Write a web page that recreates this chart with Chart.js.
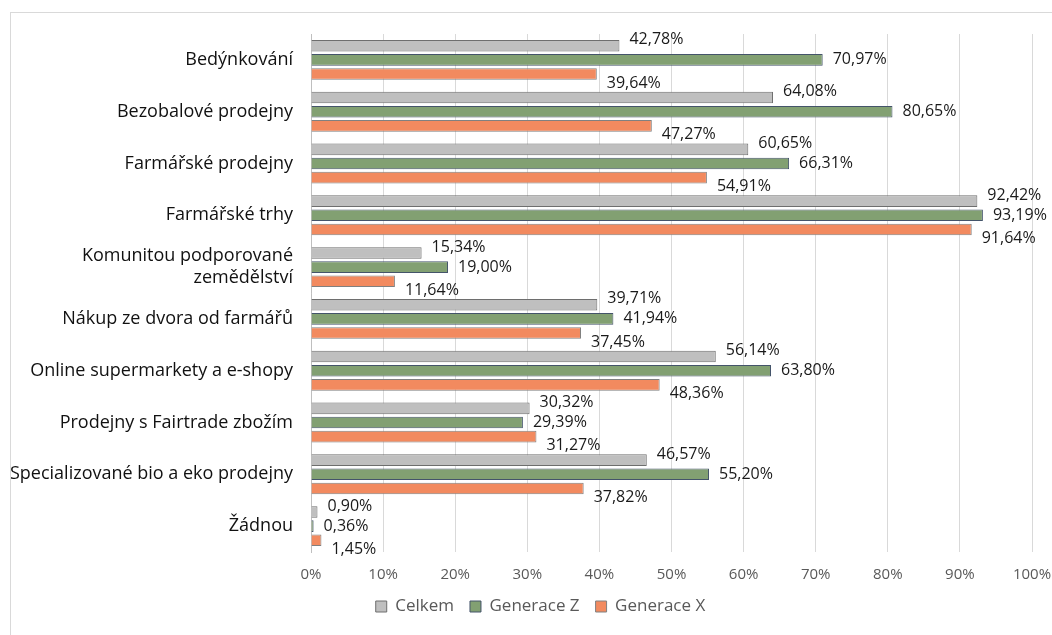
<!DOCTYPE html>
<html>
<head>
<meta charset="utf-8">
<script src="https://cdn.jsdelivr.net/npm/chart.js@4"></script>
<style>
  html, body { margin: 0; padding: 0; background: #fff; }
  #wrap { position: absolute; left: 10px; top: 12px; width: 1042px; height: 623px;
          border-left: 1px solid #d9d9d9; border-top: 1px solid #d9d9d9; box-sizing: border-box; }
  #chart { position: absolute; left: 0; top: 0; }
</style>
</head>
<body>
<div id="wrap"><canvas id="chart" width="1041" height="622"></canvas></div>
<script>
// Categories (y axis)
const categories = [
    'Bedýnkování',
    'Bezobalové prodejny',
    'Farmářské prodejny',
    'Farmářské trhy',
    ['Komunitou podporované', 'zemědělství'],
    'Nákup ze dvora od farmářů',
    'Online supermarkety a e-shopy',
    'Prodejny s Fairtrade zbožím',
    'Specializované bio a eko prodejny',
    'Žádnou'
];

// Series values (%)
const celkem     = [42.78, 64.08, 60.65, 92.42, 15.34, 39.71, 56.14, 30.32, 46.57, 0.90];
const generaceZ  = [70.97, 80.65, 66.31, 93.19, 19.00, 41.94, 63.80, 29.39, 55.20, 0.36];
const generaceX  = [39.64, 47.27, 54.91, 91.64, 11.64, 37.45, 48.36, 31.27, 37.82, 1.45];

const fontFamily = '"Open Sans", sans-serif';

// Value labels next to bar ends, staggered like the original
const valueLabels = {
    id: 'valueLabels',
    afterLayout(chart) {
        // legend in the original sits a bit right of the canvas centre
        chart.legend.left += 19;
        chart.legend.right += 19;
    },
    afterDatasetsDraw(chart) {
        const ctx = chart.ctx;
        const yShift = [-6, 0, 9];
        ctx.save();
        ctx.font = '16px ' + fontFamily;
        ctx.fillStyle = '#1a1a1a';
        ctx.textBaseline = 'middle';
        ctx.textAlign = 'left';
        chart.data.datasets.forEach((ds, di) => {
            const meta = chart.getDatasetMeta(di);
            meta.data.forEach((bar, i) => {
                const txt = ds.data[i].toFixed(2).replace('.', ',') + '%';
                ctx.fillText(txt, bar.x + 10, bar.y + yShift[di]);
            });
        });
        ctx.restore();
    }
};

new Chart(document.getElementById('chart'), {
    type: 'bar',
    data: {
        labels: categories,
        datasets: [
            { label: 'Celkem', data: celkem, backgroundColor: '#bfbfbf', borderColor: '#6e6e6e', borderWidth: 1 },
            { label: 'Generace Z', data: generaceZ, backgroundColor: '#82a072', borderColor: '#44546a', borderWidth: 1 },
            { label: 'Generace X', data: generaceX, backgroundColor: '#f28a5f', borderColor: '#808080', borderWidth: 1 }
        ]
    },
    options: {
        indexAxis: 'y',
        responsive: false,
        animation: false,
        categoryPercentage: 0.82,
        barPercentage: 0.82,
        layout: { padding: { left: 0, right: 20, top: 21, bottom: 10 } },
        plugins: {
            legend: {
                position: 'bottom',
                labels: {
                    boxWidth: 11, boxHeight: 11, padding: 16,
                    color: '#595959',
                    font: { family: fontFamily, size: 17 }
                }
            },
            tooltip: { enabled: false }
        },
        scales: {
            x: {
                min: 0, max: 100,
                ticks: {
                    stepSize: 10,
                    color: '#595959',
                    padding: 14,
                    font: { family: fontFamily, size: 15 },
                    callback: v => v + '%'
                },
                grid: { color: '#d9d9d9', drawTicks: false },
                border: { display: false },
                afterFit: axis => {
                    axis.height = 30;
                    axis.paddingLeft = 0;
                    axis.paddingRight = 0;
                }
            },
            y: {
                ticks: {
                    color: '#111',
                    padding: 18,
                    font: { family: fontFamily, size: 18 }
                },
                grid: { display: false, drawTicks: false },
                border: { display: true, color: '#bfbfbf' },
                afterFit: axis => {
                    axis.width = 300;
                    axis.paddingTop = 0;
                    axis.paddingBottom = 0;
                }
            }
        }
    },
    plugins: [valueLabels]
});
</script>
</body>
</html>
